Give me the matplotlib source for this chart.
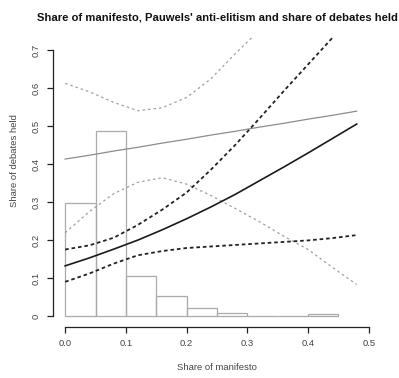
import numpy as np
import matplotlib
matplotlib.use("Agg")
import matplotlib.pyplot as plt

plt.rcParams['font.family'] = ['Liberation Sans', 'DejaVu Sans']

# histogram of share of manifesto (bin width 0.05)
bin_left = [0.0, 0.05, 0.10, 0.15, 0.20, 0.25, 0.30, 0.35, 0.40]
bin_height = [0.297, 0.487, 0.106, 0.054, 0.022, 0.009, 0.0, 0.0, 0.006]

# predicted share of debates held
xs = [0.0, 0.04, 0.08, 0.12, 0.16, 0.20, 0.24, 0.28, 0.32, 0.36, 0.40, 0.44, 0.48]
fit_black = [0.132, 0.153, 0.176, 0.200, 0.227, 0.256, 0.287, 0.320, 0.356, 0.392, 0.429, 0.467, 0.505]
hi_black = [0.175, 0.186, 0.206, 0.240, 0.280, 0.325, 0.385, 0.450, 0.520, 0.592, 0.662, 0.732, 0.800]
lo_black = [0.090, 0.112, 0.138, 0.160, 0.171, 0.179, 0.183, 0.187, 0.191, 0.195, 0.199, 0.205, 0.213]
fit_gray = [0.413, 0.423, 0.434, 0.444, 0.455, 0.465, 0.476, 0.486, 0.497, 0.507, 0.518, 0.528, 0.539]
hi_gray = [0.612, 0.590, 0.562, 0.540, 0.548, 0.575, 0.624, 0.690, 0.752, 0.820, 0.890, 0.960, 1.030]
lo_gray = [0.219, 0.275, 0.322, 0.352, 0.364, 0.347, 0.317, 0.283, 0.248, 0.210, 0.175, 0.128, 0.083]

fig = plt.figure(figsize=(3.99, 3.78), dpi=100)
W, H = 399, 378
ax = fig.add_axes([53 / W, (H - 326.7) / H, (381 - 53) / W, (326.7 - 37) / H])

ax.bar(bin_left, bin_height, width=0.05, align='edge', fill=False,
       edgecolor='#aaaaaa', linewidth=0.9)

ax.plot(xs, fit_gray, color='#8c8c8c', linewidth=0.9)
ax.plot(xs, hi_gray, color='#a0a0a0', linewidth=0.9, linestyle=(0, (2.0, 2.4)))
ax.plot(xs, lo_gray, color='#a0a0a0', linewidth=0.9, linestyle=(0, (2.0, 2.4)))
ax.plot(xs, fit_black, color='#1a1a1a', linewidth=1.2)
ax.plot(xs, hi_black, color='#222222', linewidth=1.3, linestyle=(0, (2.0, 1.6)))
ax.plot(xs, lo_black, color='#222222', linewidth=1.3, linestyle=(0, (2.0, 1.6)))

ax.set_xlim(-0.02, 0.52)
ax.set_ylim(-0.028, 0.734)

for s in ['top', 'right']:
    ax.spines[s].set_visible(False)
ax.spines['left'].set_bounds(0, 0.7)
ax.spines['bottom'].set_bounds(0, 0.5)
for s in ['left', 'bottom']:
    ax.spines[s].set_linewidth(0.9)
    ax.spines[s].set_color('#222222')

ax.set_xticks([0.0, 0.1, 0.2, 0.3, 0.4, 0.5])
ax.set_xticklabels(['0.0', '0.1', '0.2', '0.3', '0.4', '0.5'])
ax.set_yticks([0, 0.1, 0.2, 0.3, 0.4, 0.5, 0.6, 0.7])
ax.set_yticklabels(['0', '0.1', '0.2', '0.3', '0.4', '0.5', '0.6', '0.7'],
                   rotation=90, va='center')
ax.tick_params(axis='both', direction='out', length=4.5, width=0.9,
               colors='#222222', labelsize=6.8, labelcolor='#444444')
ax.tick_params(axis='x', pad=4.5)
ax.tick_params(axis='y', pad=4.5)

fig.text(217 / W, 1 - 17 / H,
         "Share of manifesto, Pauwels' anti-elitism and share of debates held",
         ha='center', va='center', fontsize=8.1, fontweight='bold', color='#111111')
fig.text(217 / W, 1 - 367 / H, 'Share of manifesto', ha='center', va='center',
         fontsize=6.8, color='#444444')
fig.text(15 / W, 1 - 161 / H, 'Share of debates held', ha='center', va='center',
         rotation=90, fontsize=6.8, color='#444444')

fig.savefig('out.png', dpi=100)
